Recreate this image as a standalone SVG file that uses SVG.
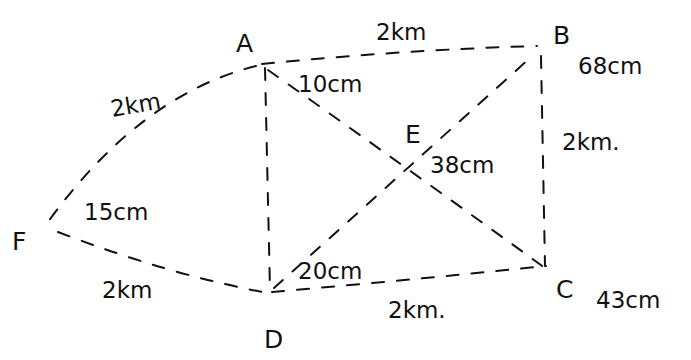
<svg xmlns="http://www.w3.org/2000/svg" width="691" height="360" viewBox="0 0 691 360">
<style>
.e{fill:none;stroke:#111;stroke-width:2;stroke-dasharray:12 13;stroke-linecap:round}
.n{font-family:"DejaVu Sans","Liberation Sans",sans-serif;font-size:25px;fill:#111}
.l{font-family:"DejaVu Sans","Liberation Sans",sans-serif;font-size:23px;fill:#111}
</style>
<rect width="691" height="360" fill="#fff"/>
<g id="connectors">
<path class="e" d="M262 64 Q400 50 537 46"/>
<path class="e" d="M265 68 L270 290"/>
<path class="e" d="M541 56 L545 266"/>
<path class="e" d="M272 292 Q410 280 546 266"/>
<path class="e" d="M268 70 Q410 170 545 268"/>
<path class="e" d="M274 288 Q400 175 530 58"/>
<path class="e" d="M256 66 Q140 95 48 222"/>
<path class="e" d="M58 232 Q170 275 268 293"/>
<text class="l" x="376" y="40">2km</text>
<text class="l" x="578" y="74">68cm</text>
<text class="l" x="562" y="150">2km.</text>
<text class="l" x="298" y="92">10cm</text>
<text class="l" x="430" y="173">38cm</text>
<text class="l" x="110" y="112" transform="rotate(-10 140 102)">2km</text>
<text class="l" x="84" y="220">15cm</text>
<text class="l" x="102" y="298">2km</text>
<text class="l" x="298" y="279">20cm</text>
<text class="l" x="388" y="318">2km.</text>
<text class="l" x="596" y="308">43cm</text>
</g>
<g id="node-A"><text class="n" x="236" y="52">A</text></g>
<g id="node-B"><text class="n" x="553" y="44">B</text></g>
<g id="node-C"><text class="n" x="556" y="298">C</text></g>
<g id="node-D"><text class="n" x="264" y="348">D</text></g>
<g id="node-E"><text class="n" x="405" y="143">E</text></g>
<g id="node-F"><text class="n" x="12" y="250">F</text></g>
</svg>
